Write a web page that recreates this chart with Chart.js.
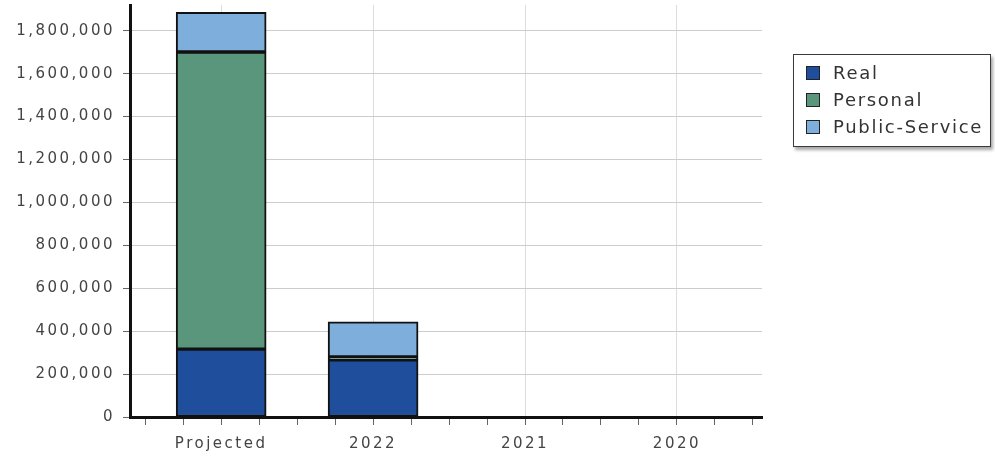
<!DOCTYPE html>
<html>
<head>
<meta charset="utf-8">
<script src="https://cdn.jsdelivr.net/npm/chart.js@4/dist/chart.umd.min.js"></script>
<style>
  html, body { margin: 0; padding: 0; background: #fff; }
  #wrap { position: relative; width: 995px; height: 456px; }
  #legend {
    position: absolute; left: 793px; top: 54px; width: 196px; height: 91px;
    border: 1px solid #3a3a3a; background: #fff;
    box-shadow: 2px 3px 3px rgba(0,0,0,0.35);
    font-family: "DejaVu Sans", sans-serif; font-size: 18px; letter-spacing: 1.7px; color: #333;
  }
  .item { position: absolute; left: 0; height: 24px; line-height: 24px; white-space: nowrap; }
  .sw { position: absolute; left: 12px; top: 5px; width: 12px; height: 12px; border: 1px solid #222; }
  .lt { position: absolute; left: 39px; top: 0; }
</style>
</head>
<body>
<div id="wrap">
  <canvas id="c" width="995" height="456"></canvas>
  <div id="legend"></div>
</div>
<script>
// ---- data ----
const categories = ["Projected", "2022", "2021", "2020"];
const seriesNames = ["Real", "Personal", "Public-Service"];
const realValues = [316000, 266000, 0, 0];
const personalValues = [1385000, 14000, 0, 0];
const publicServiceValues = [185000, 164000, 0, 0];
const yTickValues = [0, 200000, 400000, 600000, 800000, 1000000, 1200000, 1400000, 1600000, 1800000];
const seriesColors = ["#1f4f9c", "#5a967c", "#7eaedb"];

const seriesValues = [realValues, personalValues, publicServiceValues];

const datasets = seriesNames.map((name, i) => ({
  label: name,
  data: categories.map((c, j) => ({ x: j, y: seriesValues[i][j] })),
  backgroundColor: seriesColors[i],
  borderColor: "#111",
  borderWidth: 2,
  borderSkipped: false,
  stack: "s",
  barThickness: 90
}));

// HTML legend
const leg = document.getElementById("legend");
seriesNames.forEach((name, i) => {
  const it = document.createElement("div");
  it.className = "item";
  it.style.top = (6 + i * 27) + "px";
  it.innerHTML = '<span class="sw" style="background:' + seriesColors[i] + '"></span><span class="lt">' + name + '</span>';
  leg.appendChild(it);
});

const spacingPlugin = {
  id: "spacing",
  beforeDraw(chart) { chart.ctx.letterSpacing = "2.5px"; }
};

new Chart(document.getElementById("c"), {
  type: "bar",
  data: { datasets },
  plugins: [spacingPlugin],
  options: {
    responsive: false,
    animation: false,
    layout: { padding: { top: 5, right: 233, bottom: 0, left: 0 } },
    plugins: { legend: { display: false }, tooltip: { enabled: false } },
    scales: {
      x: {
        type: "linear",
        min: -0.6,
        max: 3.56,
        offset: false,
        stacked: true,
        afterBuildTicks(scale) {
          const t = [];
          for (let k = 0; k <= categories.length * 4; k++) t.push({ value: -0.5 + k * 0.25 });
          scale.ticks = t;
        },
        afterFit(scale) { scale.height = 39; scale.paddingLeft = 0; scale.paddingRight = 0; },
        ticks: {
          autoSkip: false,
          maxRotation: 0,
          padding: 10,
          color: "#444",
          font: { family: "DejaVu Sans", size: 15 },
          callback(v) {
            return Number.isInteger(v) && v >= 0 && v < categories.length ? categories[v] : "";
          }
        },
        grid: {
          offset: false,
          color: (ctx) => (ctx.tick && Number.isInteger(ctx.tick.value)) ? "#dcdcdc" : "rgba(0,0,0,0)",
          tickColor: "#666",
          tickLength: 8,
          lineWidth: 1
        },
        border: { color: "#111", width: 3 }
      },
      y: {
        stacked: true,
        min: 0,
        max: 1920000,
        afterBuildTicks(scale) { scale.ticks = yTickValues.map(v => ({ value: v })); },
        afterFit(scale) { scale.width = 130; scale.paddingTop = 0; scale.paddingBottom = 0; },
        ticks: {
          padding: 8,
          color: "#444",
          font: { family: "DejaVu Sans", size: 15 },
          callback(v) { return Number(v).toLocaleString("en-US"); }
        },
        grid: {
          color: "#cccccc",
          tickColor: "#666",
          tickLength: 7,
          lineWidth: 1
        },
        border: { color: "#111", width: 3, dash: [] }
      }
    }
  }
});
</script>
</body>
</html>
